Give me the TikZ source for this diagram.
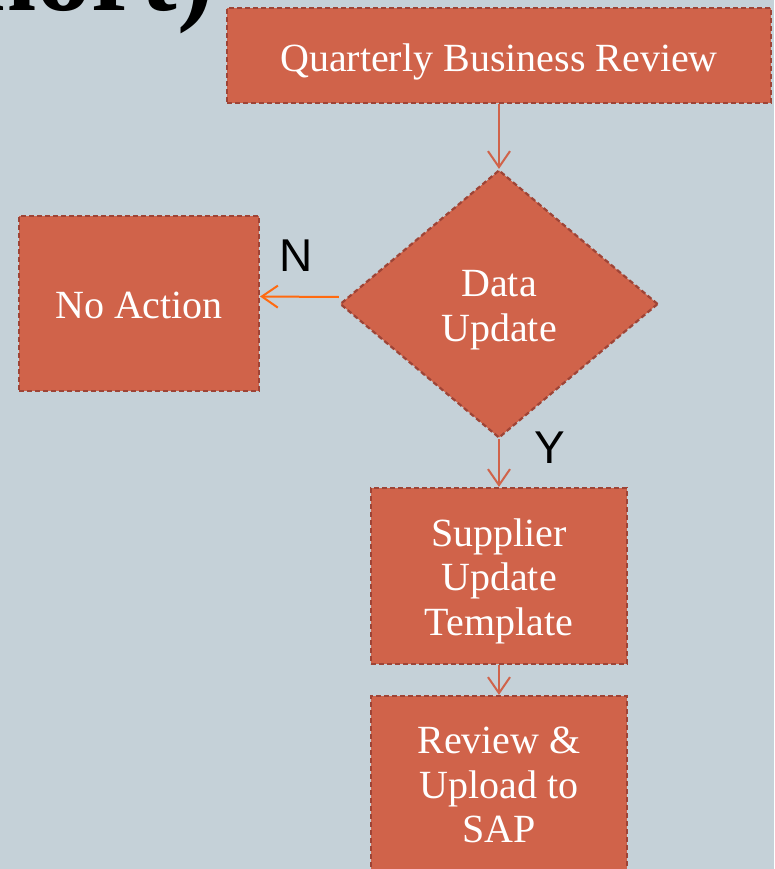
\documentclass[tikz,border=0pt]{standalone}
\usepackage{fontspec}
\setmainfont{Liberation Serif}
\newfontfamily\lsans{Liberation Sans}
\usetikzlibrary{shapes.geometric,arrows.meta}
\definecolor{bgc}{HTML}{C5D1D8}
\definecolor{boxfill}{HTML}{D0634A}
\definecolor{boxedge}{HTML}{9E4436}
\definecolor{arrc}{HTML}{D0634A}
\definecolor{arrn}{HTML}{FF6A10}
\newcommand{\shiftdown}[2]{\raisebox{-#1}[\height][\depth]{#2}}
\newcommand{\lines}[2]{\parbox{#1}{\centering #2}}
\tikzset{
  x=1pt,y=-1pt,
  flowbox/.style={draw=boxedge,fill=boxfill,line width=2.2pt,dash pattern=on 5pt off 3pt,
    text=white,align=center,inner sep=0pt,
    font=\fontsize{40}{44.5}\selectfont},
  decision/.style={flowbox,diamond,minimum width=318pt,minimum height=268pt},
  conn/.style={draw=arrc,line width=2pt,-{Straight Barb[length=16pt,width=22pt,line width=2pt]}},
  connN/.style={conn,draw=arrn},
  lbl/.style={font=\lsans\fontsize{46}{46}\selectfont,text=black,inner sep=0pt}
}
\begin{document}
\begin{tikzpicture}
\fill[bgc] (0,0) rectangle (774,869);
\useasboundingbox (0,0) rectangle (774,869);
\node[font=\bfseries\fontsize{110}{110}\selectfont,anchor=base east,inner sep=0pt] (title) at (214,11) {hort)};
\node[flowbox,minimum width=544pt,minimum height=95pt] (qbr) at (499,55.5) {\shiftdown{6pt}{Quarterly Business Review}};
\node[decision] (dia) at (499,304) {\shiftdown{6pt}{\lines{130pt}{Data\\Update}}};
\node[flowbox,minimum width=240pt,minimum height=175pt] (noact) at (139,303.5) {\shiftdown{2pt}{No Action}};
\node[flowbox,minimum width=256pt,minimum height=176pt] (sup) at (499,576) {\shiftdown{5pt}{\lines{250pt}{Supplier\\Update\\Template}}};
\node[flowbox,minimum width=256pt,minimum height=178pt] (rev) at (499,785) {\lines{250pt}{Review \&\\Upload to\\SAP}};
\node[lbl] (n) at (296,256) {N};
\node[lbl] (y) at (550,448) {Y};
\draw[conn] (qbr.south) -- (dia.north);
\draw[connN] ([yshift=7pt]dia.west) -- ([yshift=7pt]noact.east);
\draw[conn] (dia.south) -- (sup.north);
\draw[conn] (sup.south) -- (rev.north);
\end{tikzpicture}
\end{document}
